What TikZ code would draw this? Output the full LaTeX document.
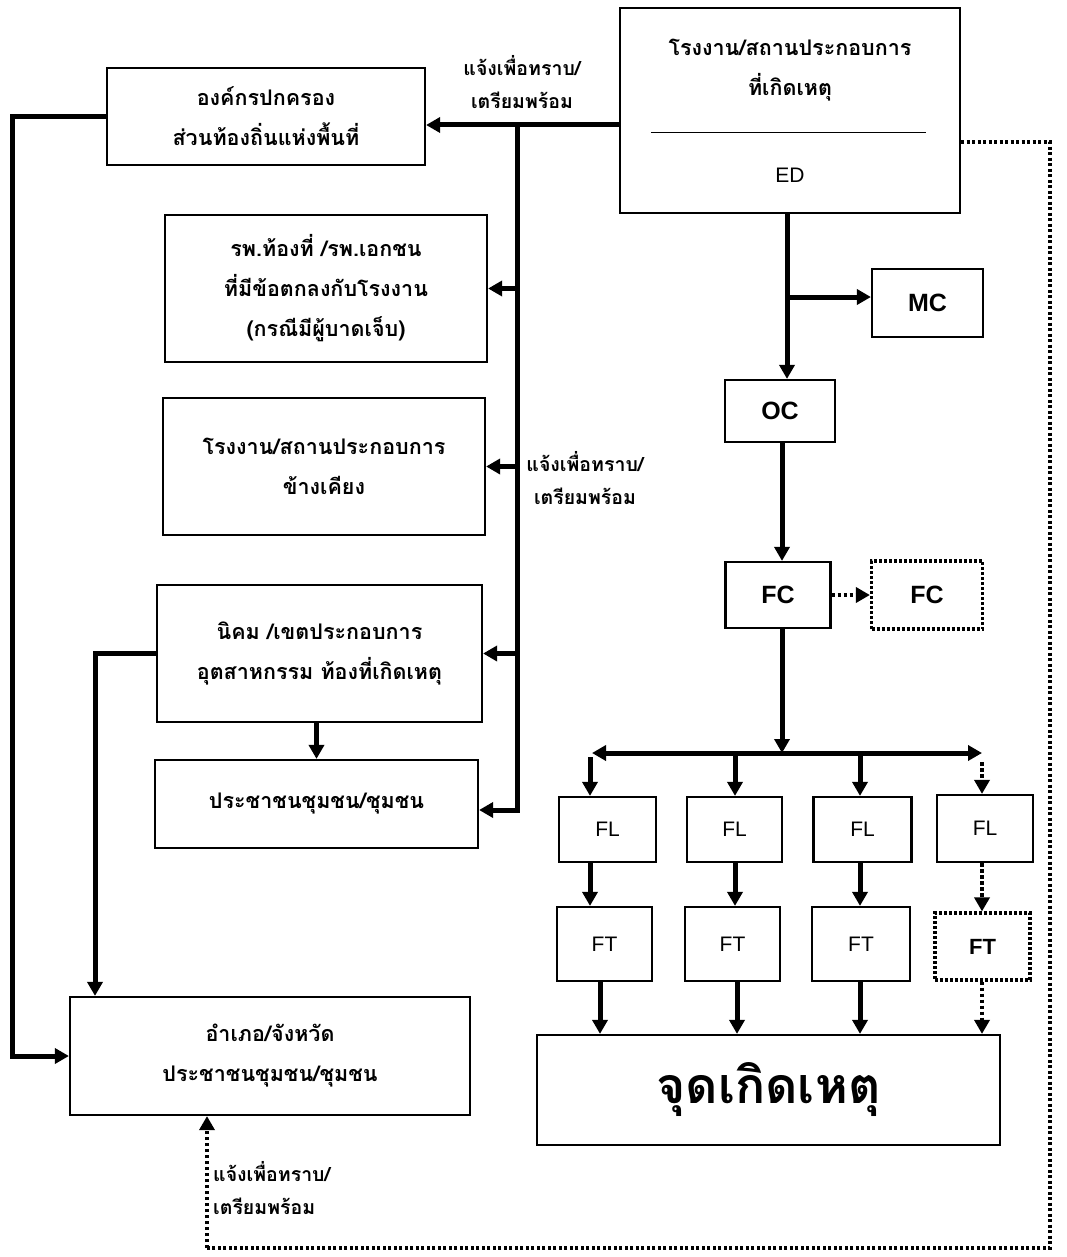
\documentclass[tikz,border=0pt]{standalone}
\usepackage{fontspec}
\setmainfont{Liberation Sans}
\newfontfamily\thaifont[Script=Thai]{Loma}
\usetikzlibrary{arrows.meta,calc}
\begin{document}
\begin{tikzpicture}[x=1pt,y=-1pt,
  box/.style={draw, line width=2.2pt, inner sep=0pt, align=center},
  dbox/.style={draw, line width=3.2pt, dash pattern=on 3pt off 2pt, inner sep=0pt, align=center},
  thai/.style={font=\thaifont\bfseries\fontsize{21.5}{40}\selectfont, align=center},
  lab/.style={font=\thaifont\bfseries\fontsize{19.5}{33}\selectfont, align=center, inner sep=0pt},
  latb/.style={font=\bfseries\fontsize{25}{28}\selectfont},
  latr/.style={font=\fontsize{21}{24}\selectfont},
  arr/.style={line width=5pt, -{Triangle[length=14pt,width=15pt]}},
  ln/.style={line width=5pt, line cap=rect},
  darr/.style={line width=4pt, dash pattern=on 3.5pt off 2.5pt, -{Triangle[length=14pt,width=15pt]}},
  dln/.style={line width=3.6pt, dash pattern=on 3pt off 2.5pt},
]
\useasboundingbox (0,0) rectangle (1067,1257);
\fill[white] (0,0) rectangle (1067,1257);

% ---- boxes left/top
\node[box, minimum width=340pt, minimum height=205pt] (ed) at (790,110.5) {};
\node[thai] (edt) at (790,70) {โรงงาน/สถานประกอบการ\\ที่เกิดเหตุ};
\node[latr] (edl) at (790,175) {ED};
\draw[line width=0.8pt] ([xshift=32pt,yshift=-22pt]ed.west) -- ([xshift=-35pt,yshift=-22pt]ed.east);

\node[box, thai, minimum width=318pt, minimum height=97pt] (org) at (266,116.5) {องค์กรปกครอง\\ส่วนท้องถิ่นแห่งพื้นที่};
\node[box, thai, minimum width=322pt, minimum height=147pt] (hosp) at (326,288.5) {รพ.ท้องที่ /รพ.เอกชน\\ที่มีข้อตกลงกับโรงงาน\\(กรณีมีผู้บาดเจ็บ)};
\node[box, thai, minimum width=322pt, minimum height=137pt] (nb) at (324,466.5) {โรงงาน/สถานประกอบการ\\ข้างเคียง};
\node[box, thai, minimum width=325pt, minimum height=137pt] (nikom) at (319.5,653.5) {นิคม /เขตประกอบการ\\อุตสาหกรรม ท้องที่เกิดเหตุ};
\node[box, thai, minimum width=323pt, minimum height=88pt] (people) at (316.5,804) {ประชาชนชุมชน/ชุมชน};
\node[box, thai, minimum width=400pt, minimum height=118pt] (amph) at (270,1056) {อำเภอ/จังหวัด\\ประชาชนชุมชน/ชุมชน};

% ---- right column
\node[box, latb, minimum width=111pt, minimum height=68pt] (mc) at (927.5,303) {MC};
\node[box, latb, minimum width=110pt, minimum height=62pt] (oc) at (780,411) {OC};
\node[box, latb, minimum width=105pt, minimum height=66pt] (fc) at (778,595) {FC};
\node[dbox, latb, minimum width=111pt, minimum height=68pt] (fc2) at (927,595) {FC};

\node[box, latr, minimum width=97pt, minimum height=65pt] (fl1) at (607.5,829.5) {FL};
\node[box, latr, minimum width=95pt, minimum height=65pt] (fl2) at (734.5,829.5) {FL};
\node[box, latr, minimum width=98pt, minimum height=65pt] (fl3) at (862.5,829.5) {FL};
\node[box, latr, minimum width=96pt, minimum height=67pt] (fl4) at (985,828.5) {FL};

\node[box, latr, minimum width=95pt, minimum height=74pt] (ft1) at (604.5,944) {FT};
\node[box, latr, minimum width=95pt, minimum height=74pt] (ft2) at (732.5,944) {FT};
\node[box, latr, minimum width=98pt, minimum height=74pt] (ft3) at (861,944) {FT};
\node[dbox, font=\fontsize{22}{24}\selectfont\bfseries, minimum width=95pt, minimum height=67pt] (ft4) at (982.5,946.5) {FT};

\node[box, minimum width=463pt, minimum height=110pt, font=\thaifont\bfseries\fontsize{50}{54}\selectfont] (jd) at (768.5,1090) {จุดเกิดเหตุ};

% ---- labels
\node[lab] (l1) at (522,82) {แจ้งเพื่อทราบ/\\เตรียมพร้อม};
\node[lab] (l2) at (585,478) {แจ้งเพื่อทราบ/\\เตรียมพร้อม};
\node[lab, align=left, anchor=west] (l3) at (213,1188) {แจ้งเพื่อทราบ/\\ เตรียมพร้อม};

% ---- helper coordinates
\coordinate (ay) at (0,125);
\coordinate (tr1) at (517,125);
\coordinate (tr2) at (517,810);
\coordinate (lx) at (12,0);
\coordinate (nx) at (95,0);
\coordinate (rx) at (787,0);
\coordinate (rx2) at (782,0);
\coordinate (my) at (0,297);
\coordinate (busL) at (592,753);
\coordinate (busR) at (982,753);
\coordinate (c1) at (590,0);
\coordinate (c2) at (735,0);
\coordinate (c3) at (860,0);
\coordinate (c4) at (982,0);
\coordinate (d1) at (600,0);
\coordinate (d2) at (737,0);
\coordinate (d3) at (860,0);
\coordinate (d4) at (982,0);
\coordinate (dx) at (1050,0);
\coordinate (dy) at (0,142);
\coordinate (by) at (0,1248);
\coordinate (ux) at (207,0);

% ---- left connectors
\draw[arr] (ed.west |- ay) -- (org.east |- ay);
\draw[ln] (tr1) -- (tr2);
\draw[arr] (tr1 |- hosp.east) -- (hosp.east);
\draw[arr] (tr1 |- nb.east) -- (nb.east);
\draw[arr] (tr1 |- nikom.east) -- (nikom.east);
\draw[arr] (tr2) -- (tr2 -| people.east);
\draw[arr, line join=miter] (org.west) -- (org.west -| lx) |- (amph.west);
\draw[arr, line join=miter] (nikom.west) -- (nikom.west -| nx) -- (nx |- amph.north);
\draw[arr] (nikom.south -| people.north) -- (people.north);

% ---- right connectors
\draw[arr] (ed.south -| rx) -- (oc.north -| rx);
\draw[arr] (rx |- my) -- (mc.west |- my);
\draw[arr] (oc.south -| rx2) -- (fc.north -| rx2);
\draw[darr] (fc.east) -- (fc2.west);
\draw[arr] (fc.south -| rx2) -- (rx2 |- busL);
\draw[arr] (rx2 |- busL) -- (busL);
\draw[arr] (rx2 |- busL) -- (busR);
\draw[arr] ([yshift=-4pt]c1 |- busL) -- (fl1.north -| c1);
\draw[arr] (c2 |- busL) -- (fl2.north -| c2);
\draw[arr] (c3 |- busL) -- (fl3.north -| c3);
\draw[darr] ([yshift=-9pt]c4 |- busR) -- (fl4.north -| c4);

\draw[arr] (fl1.south -| c1) -- (ft1.north -| c1);
\draw[arr] (fl2.south -| c2) -- (ft2.north -| c2);
\draw[arr] (fl3.south -| c3) -- (ft3.north -| c3);
\draw[darr] (fl4.south -| c4) -- (ft4.north -| c4);

\draw[arr] (ft1.south -| d1) -- (jd.north -| d1);
\draw[arr] (ft2.south -| d2) -- (jd.north -| d2);
\draw[arr] (ft3.south -| d3) -- (jd.north -| d3);
\draw[darr] (ft4.south -| d4) -- (jd.north -| d4);

% ---- dotted loop back to amphoe
\draw[dln] (ed.east |- dy) -- (dx |- dy) -- (dx |- by) -- (ux |- by);
\draw[darr] (ux |- by) -- (ux |- amph.south);
\end{tikzpicture}
\end{document}
